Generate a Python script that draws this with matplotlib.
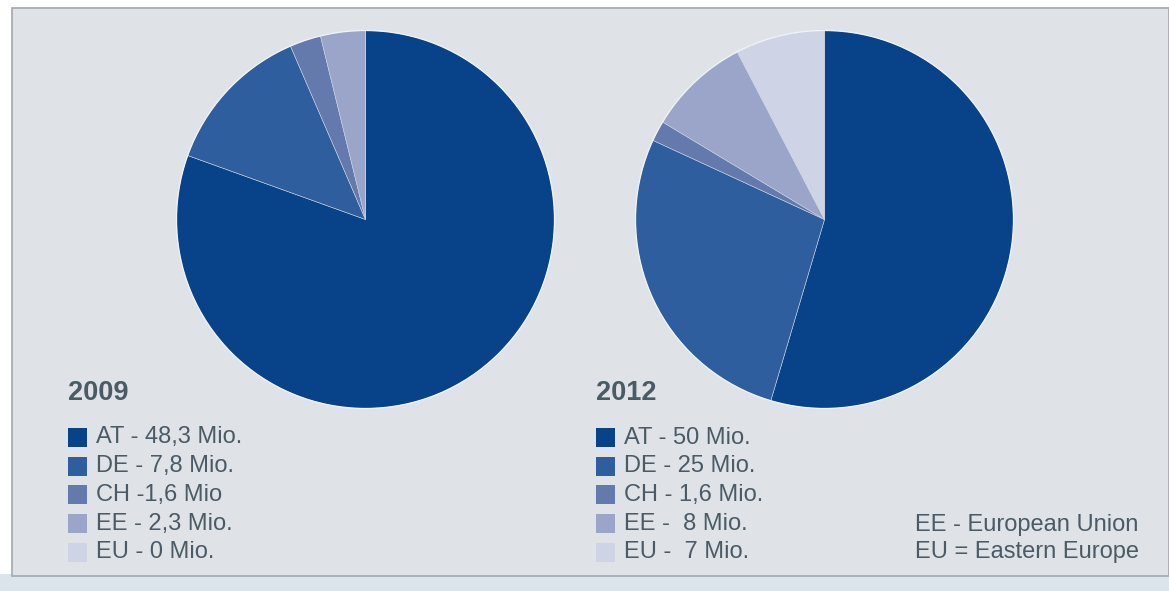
import matplotlib
matplotlib.use("Agg")
import matplotlib.pyplot as plt
from matplotlib.patches import Rectangle, Circle

# Revenue by market (million)
regions = ["AT", "DE", "CH", "EE", "EU"]
values_2009 = [48.3, 7.8, 1.6, 2.3, 0.0]
values_2012 = [50, 25, 1.6, 8, 7]
labels_2009 = ["AT - 48,3 Mio.", "DE - 7,8 Mio.", "CH -1,6 Mio", "EE - 2,3 Mio.", "EU - 0 Mio."]
labels_2012 = ["AT - 50 Mio.", "DE - 25 Mio.", "CH - 1,6 Mio.", "EE -  8 Mio.", "EU -  7 Mio."]
note_lines = ["EE - European Union", "EU = Eastern Europe"]

colors = ["#08438a", "#2e5e9e", "#6479ac", "#9aa5c9", "#cfd3e6"]
text_color = "#4b5b66"
FONT = "Liberation Sans"

W, H = 1169, 591
fig = plt.figure(figsize=(W / 100, H / 100), dpi=100)
fig.patch.set_facecolor("white")


def fx(x):
    return x / W


def fy(y):
    return 1 - y / H


# panel background
fig.add_artist(Rectangle((fx(0), fy(591)), 1, 17 / H, transform=fig.transFigure,
                         facecolor="#dbe3eb", edgecolor="none", zorder=0))
fig.add_artist(Rectangle((fx(12), fy(576)), (W - 12) / W, 568 / H, transform=fig.transFigure,
                         facecolor="#dfe2e7", edgecolor="#a3a7ab", linewidth=1.2, zorder=0))


def draw_pie(cx, cy, r, vals):
    ax = fig.add_axes([fx(cx - r), fy(cy + r), 2 * r / W, 2 * r / H])
    ax.pie(vals, colors=colors, startangle=90, counterclock=False,
           wedgeprops=dict(linewidth=0.4, edgecolor="#c9d3e2"), radius=1.0)
    ax.add_patch(Circle((0, 0), 1.0, facecolor="none", edgecolor="#eef3f9",
                        linewidth=1.0, zorder=5))
    ax.set_xlim(-1.005, 1.005)
    ax.set_ylim(-1.005, 1.005)
    ax.set_axis_off()


draw_pie(365.5, 219.5, 190, values_2009)
draw_pie(824.5, 219.5, 190, values_2012)


def draw_legend(x0, title, labels):
    fig.text(fx(x0), fy(393), title, fontsize=19.5, fontweight="bold",
             color=text_color, family=FONT, va="center")
    for i, (lab, col) in enumerate(zip(labels, colors)):
        yc = 437.5 + i * 28.7
        fig.add_artist(Rectangle((fx(x0), fy(yc + 9.5)), 19 / W, 19 / H,
                                 transform=fig.transFigure, facecolor=col,
                                 edgecolor="none"))
        fig.text(fx(x0 + 28), fy(yc), lab, fontsize=17, color=text_color,
                 family=FONT, va="center")


draw_legend(68, "2009", labels_2009)
draw_legend(596, "2012", labels_2012)

for i, line in enumerate(note_lines):
    fig.text(fx(915), fy(525 + i * 27.3), line, fontsize=17, color=text_color,
             family=FONT, va="center")

fig.savefig("out.png", dpi=100, facecolor=fig.get_facecolor())
